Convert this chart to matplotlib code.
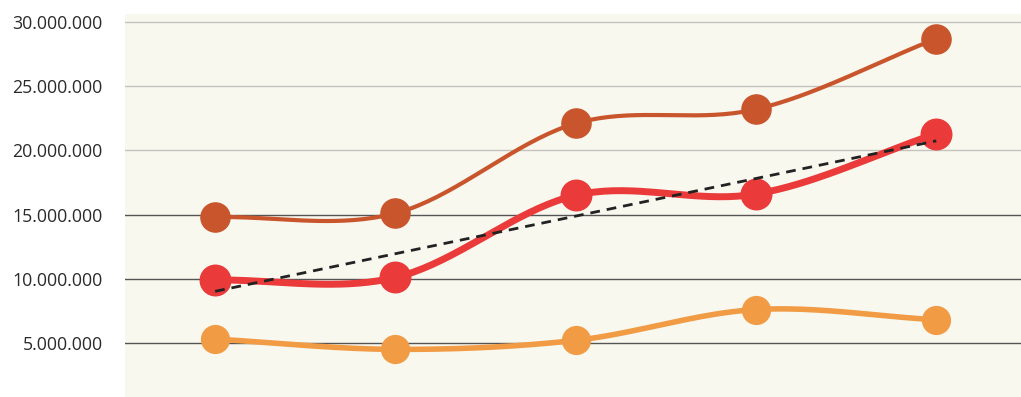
import numpy as np
import matplotlib.pyplot as plt

# values (five periods, no x labels shown)
periods = [0, 1, 2, 3, 4]
serie_a = [14.8e6, 15.1e6, 22.1e6, 23.2e6, 28.7e6]
serie_b = [9.9e6, 10.1e6, 16.5e6, 16.6e6, 21.3e6]
serie_c = [5.3e6, 4.5e6, 5.2e6, 7.6e6, 6.8e6]
yticks = [5e6, 10e6, 15e6, 20e6, 25e6, 30e6]
ytick_labels = ["5.000.000", "10.000.000", "15.000.000", "20.000.000", "25.000.000", "30.000.000"]

plt.rcParams['font.family'] = ['Open Sans', 'DejaVu Sans']


def smooth(x, y, n=40):
    # catmull-rom through the points, like the "smoothed line" option
    x = np.asarray(x, float)
    y = np.asarray(y, float)
    px = np.concatenate([[2*x[0]-x[1]], x, [2*x[-1]-x[-2]]])
    py = np.concatenate([[2*y[0]-y[1]], y, [2*y[-1]-y[-2]]])
    xs, ys = [], []
    t = np.linspace(0, 1, n)
    for i in range(1, len(px)-2):
        for arr, out in ((px, xs), (py, ys)):
            p0, p1, p2, p3 = arr[i-1], arr[i], arr[i+1], arr[i+2]
            out.extend(0.5*((2*p1) + (-p0+p2)*t + (2*p0-5*p1+4*p2-p3)*t**2
                            + (-p0+3*p1-3*p2+p3)*t**3))
    return xs, ys


fig = plt.figure(figsize=(10.21, 3.97), dpi=100)
ax = fig.add_axes([125/1021, 0, 896/1021, 383/397])
ax.set_facecolor('#f8f8ef')

for yv in yticks:
    c = '#555555' if yv <= 15e6 else '#c4c4bc'
    ax.axhline(yv, color=c, lw=1.0, zorder=1)

styles = [(serie_c, '#f29b45', 4, 20),
          (serie_a, '#c9552c', 3, 21),
          (serie_b, '#ea3a3a', 5, 22)]
for vals, col, lw, ms in styles:
    sx, sy = smooth(periods, vals)
    ax.plot(sx, sy, color=col, lw=lw, zorder=3, solid_capstyle='round')
    ax.plot(periods, vals, 'o', color=col, ms=ms, zorder=4)

# linear trend of the red series
k, b = np.polyfit(periods, serie_b, 1)
tx = np.array([periods[0], periods[-1]])
ax.plot(tx, k*tx + b, '--', color='#222222', lw=2, dashes=(3.5, 2.5), zorder=5)

ax.set_xlim(-0.5, 4.47)
ax.set_ylim(0.79e6, 30.62e6)
ax.set_xticks([])
ax.set_yticks(yticks)
ax.set_yticklabels(ytick_labels, fontsize=12.8, color='#2a2a2a')
ax.tick_params(axis='y', length=0, pad=16)
for s in ax.spines.values():
    s.set_visible(False)

fig.savefig('out.png', dpi=100)
